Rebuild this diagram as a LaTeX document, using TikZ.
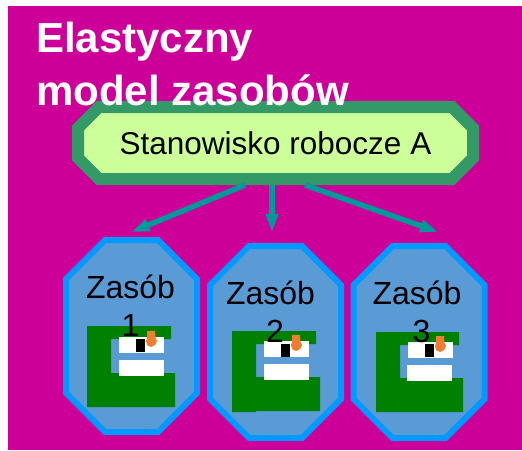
\documentclass[tikz,border=0pt]{standalone}
\usepackage{fontspec}
\setmainfont{Liberation Sans}
\usetikzlibrary{arrows.meta}
\definecolor{tlo}{HTML}{CC0099}
\definecolor{ramkaA}{HTML}{339966}
\definecolor{polaA}{HTML}{CCFF99}
\definecolor{ramkaZ}{HTML}{0099FF}
\definecolor{polaZ}{HTML}{5B9BD5}
\definecolor{strzalka}{HTML}{009999}
\definecolor{ziel}{HTML}{008000}
\definecolor{pomar}{HTML}{ED7D31}
\tikzset{
  stanowisko/.style={inner sep=0pt,outer sep=0pt,minimum width=407pt,minimum height=84pt},
  zasob/.style={inner sep=0pt,outer sep=0pt,minimum width=137pt,minimum height=198pt},
  ramka0/.style={draw=ramkaA,fill=polaA,line width=12pt,line join=miter},
  ramka/.style={draw=ramkaZ,fill=polaZ,line width=6pt,line join=miter},
  opis0/.style={inner sep=0pt,font=\fontsize{31.5}{38}\selectfont},
  opis/.style={align=center,inner sep=0pt,font=\fontsize{32}{38}\selectfont},
  tytul/.style={align=left,inner sep=0pt,anchor=north west,text=white,font=\fontsize{42}{53}\selectfont\bfseries},
  strz/.style={draw=strzalka,line width=5.5pt,-{Triangle[length=18pt,width=12pt]}},
  biel/.style={fill=white},
  czern/.style={fill=black},
  pole/.style={fill=ziel},
  wskaz/.style={fill=pomar}
}
\begin{document}
\begin{tikzpicture}[x=1pt,y=-1pt]
\useasboundingbox (0,0) rectangle (522,450);
\fill[tlo] (8,6) rectangle (522,450);
\node[stanowisko] (0) at (275.5,143) {};
\node[zasob] (1) at (131.5,336) {};
\node[zasob] (2) at (275.5,342) {};
\node[zasob] (3) at (419,342) {};
% ramki
\draw[ramka0] ([shift={(27pt,-6pt)}]0.north west) -- ([shift={(-27pt,-6pt)}]0.north east) -- ([shift={(-6pt,-27pt)}]0.north east) -- ([shift={(-6pt,27pt)}]0.south east) -- ([shift={(-27pt,6pt)}]0.south east) -- ([shift={(27pt,6pt)}]0.south west) -- ([shift={(6pt,27pt)}]0.south west) -- ([shift={(6pt,-27pt)}]0.north west) -- cycle;
\foreach \n in {1,2,3}
  \draw[ramka] ([shift={(42pt,-3pt)}]\n.north west) -- ([shift={(-42pt,-3pt)}]\n.north east) -- ([shift={(-3pt,-42pt)}]\n.north east) -- ([shift={(-3pt,42pt)}]\n.south east) -- ([shift={(-42pt,3pt)}]\n.south east) -- ([shift={(42pt,3pt)}]\n.south west) -- ([shift={(3pt,42pt)}]\n.south west) -- ([shift={(3pt,-42pt)}]\n.north west) -- cycle;
% pierwszy zasob
\fill[pole] (87,326)--(171,326)--(171,339)--(111,339)--(111,373)--(175,373)--(175,407)--(87,407)--cycle;
\fill[biel] (119,337) rectangle (164,353);
\fill[biel] (119,360) rectangle (164,376);
\fill[czern] (136,339) rectangle (145,352);
\fill[wskaz] (147,331)--(155,331)--(155.5,338)--(157,341)--(155,345)--(151,347)--(147,345)--(146,341)--(147,338)--cycle;
% drugi zasob
\fill[pole] (232,331)--(316,331)--(316,344)--(256,344)--(256,377)--(320,377)--(320,411)--(256,411)--(256,412)--(232,412)--cycle;
\fill[biel] (264,341) rectangle (309,357);
\fill[biel] (264,364) rectangle (309,380);
\fill[czern] (281,344) rectangle (290,357);
\fill[wskaz] (292,335)--(300,335)--(300.5,342)--(302,345)--(300,349)--(296,351)--(292,349)--(291,345)--(292,342)--cycle;
% trzeci zasob
\fill[pole] (376,332)--(459,332)--(459,345)--(400,345)--(400,378)--(463,378)--(463,412)--(376,412)--cycle;
\fill[biel] (408,342) rectangle (453,358);
\fill[biel] (407,365) rectangle (452,381);
\fill[czern] (425,344) rectangle (434,357);
\fill[wskaz] (436,336)--(444,336)--(444.5,343)--(446,346)--(444,350)--(440,352)--(436,350)--(435,346)--(436,343)--cycle;
\node[opis0] (opis0) at (0) {Stanowisko robocze A};
\node[opis] (opis1) at (130.5,306) {Zasób\\1};
\node[opis] (opis2) at (275,312) {Zasób\kern9pt\\2};
\node[opis] (opis3) at (421.5,312) {Zasób\kern9pt\\3};
\draw[strz] ([xshift=-30.5pt]0.south) -- ([yshift=5pt]1.north);
\draw[strz] ([xshift=-3.5pt]0.south) -- ([xshift=-3.5pt,yshift=11pt]2.north);
\draw[strz] ([xshift=29.5pt]0.south) -- ([xshift=19pt,yshift=11pt]3.north);
\node[tytul] (tytul) at (36,22) {Elastyczny\\model zasobów};
\end{tikzpicture}
\end{document}
